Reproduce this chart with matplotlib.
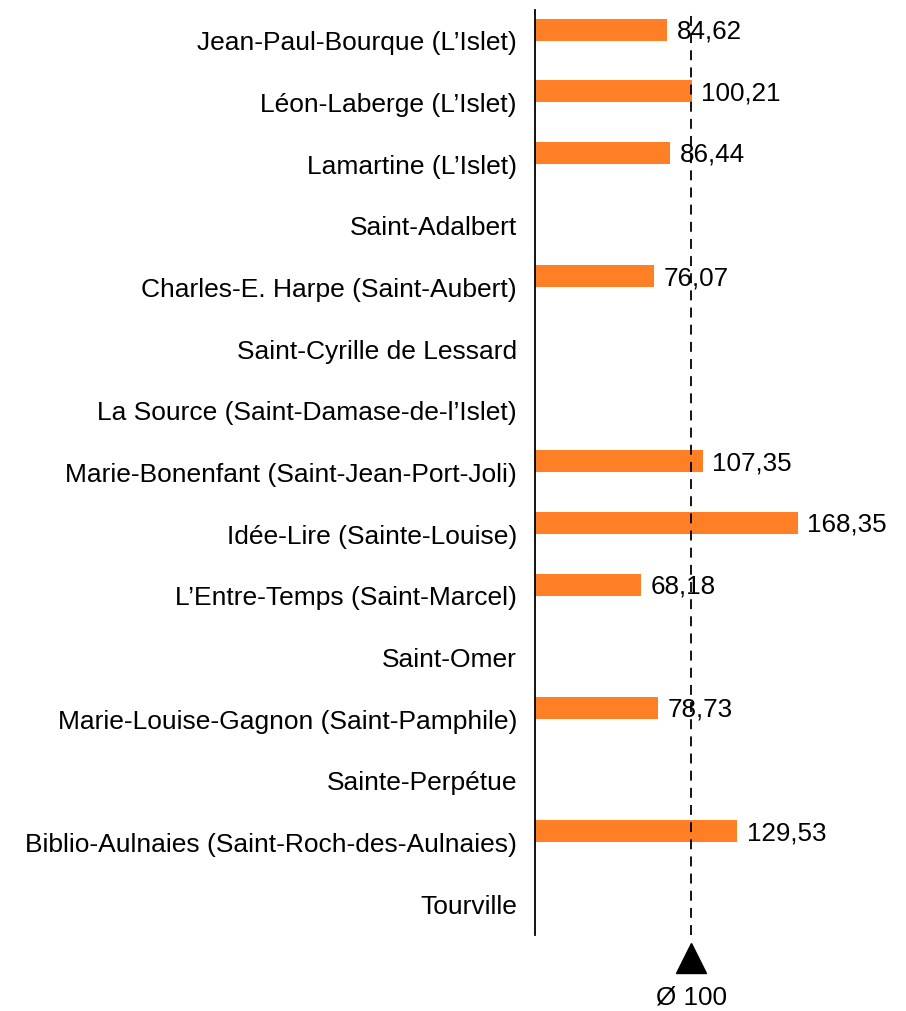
import matplotlib
matplotlib.use("Agg")
import matplotlib.pyplot as plt
import numpy as np

categories = [
    "Jean-Paul-Bourque (L\u2019Islet)",
    "L\u00e9on-Laberge (L\u2019Islet)",
    "Lamartine (L\u2019Islet)",
    "Saint-Adalbert",
    "Charles-E. Harpe (Saint-Aubert)",
    "Saint-Cyrille de Lessard",
    "La Source (Saint-Damase-de-l\u2019Islet)",
    "Marie-Bonenfant (Saint-Jean-Port-Joli)",
    "Id\u00e9e-Lire (Sainte-Louise)",
    "L\u2019Entre-Temps (Saint-Marcel)",
    "Saint-Omer",
    "Marie-Louise-Gagnon (Saint-Pamphile)",
    "Sainte-Perp\u00e9tue",
    "Biblio-Aulnaies (Saint-Roch-des-Aulnaies)",
    "Tourville",
]
values = [84.62, 100.21, 86.44, None, 76.07, None, None, 107.35, 168.35, 68.18,
          None, 78.73, None, 129.53, None]
average = 100
avg_label = "\u00d8 100"

plt.rcParams['font.family'] = ['Liberation Sans', 'DejaVu Sans']

W, H = 906, 1011
fig = plt.figure(figsize=(W/100, H/100), dpi=100)
ax_left, ax_top, ax_bot = 535, 10, 935
ax = fig.add_axes([ax_left/W, 1 - ax_bot/H, 1 - ax_left/W, (ax_bot - ax_top)/H])

n = len(categories)
y = np.arange(n)
xmax = (W - ax_left) / 1.562
ax.set_xlim(0, xmax)
ax.set_ylim(n - 0.5, -0.5)

offset = -0.18
bh = 22 / ((ax_bot - ax_top) / n)
for i, v in enumerate(values):
    if v is None:
        continue
    ax.barh(y[i] + offset, v, height=bh, color='#FF7F27', edgecolor='none')
    ax.text(v + 6, y[i] + offset + 0.03, f"{v:.2f}".replace('.', ','), va='center', ha='left',
            fontsize=18.7)

ax.axvline(average, color='black', linestyle=(0, (5.5, 4)), linewidth=1.3)

ax.set_yticks(y)
ax.set_yticklabels(categories, fontsize=19)
ax.tick_params(axis='y', length=0, pad=13)
ax.set_xticks([])
for s in ['top', 'right', 'bottom']:
    ax.spines[s].set_visible(False)
ax.spines['left'].set_linewidth(1.3)

# Triangle marker and average label below the axis
ax.plot([average], [-0.025], marker='^', markersize=22, color='black',
        transform=ax.get_xaxis_transform(), clip_on=False)
ax.text(average, -0.068, avg_label, transform=ax.get_xaxis_transform(),
        ha='center', va='center', fontsize=18.7)

fig.savefig("out.png", dpi=100)
